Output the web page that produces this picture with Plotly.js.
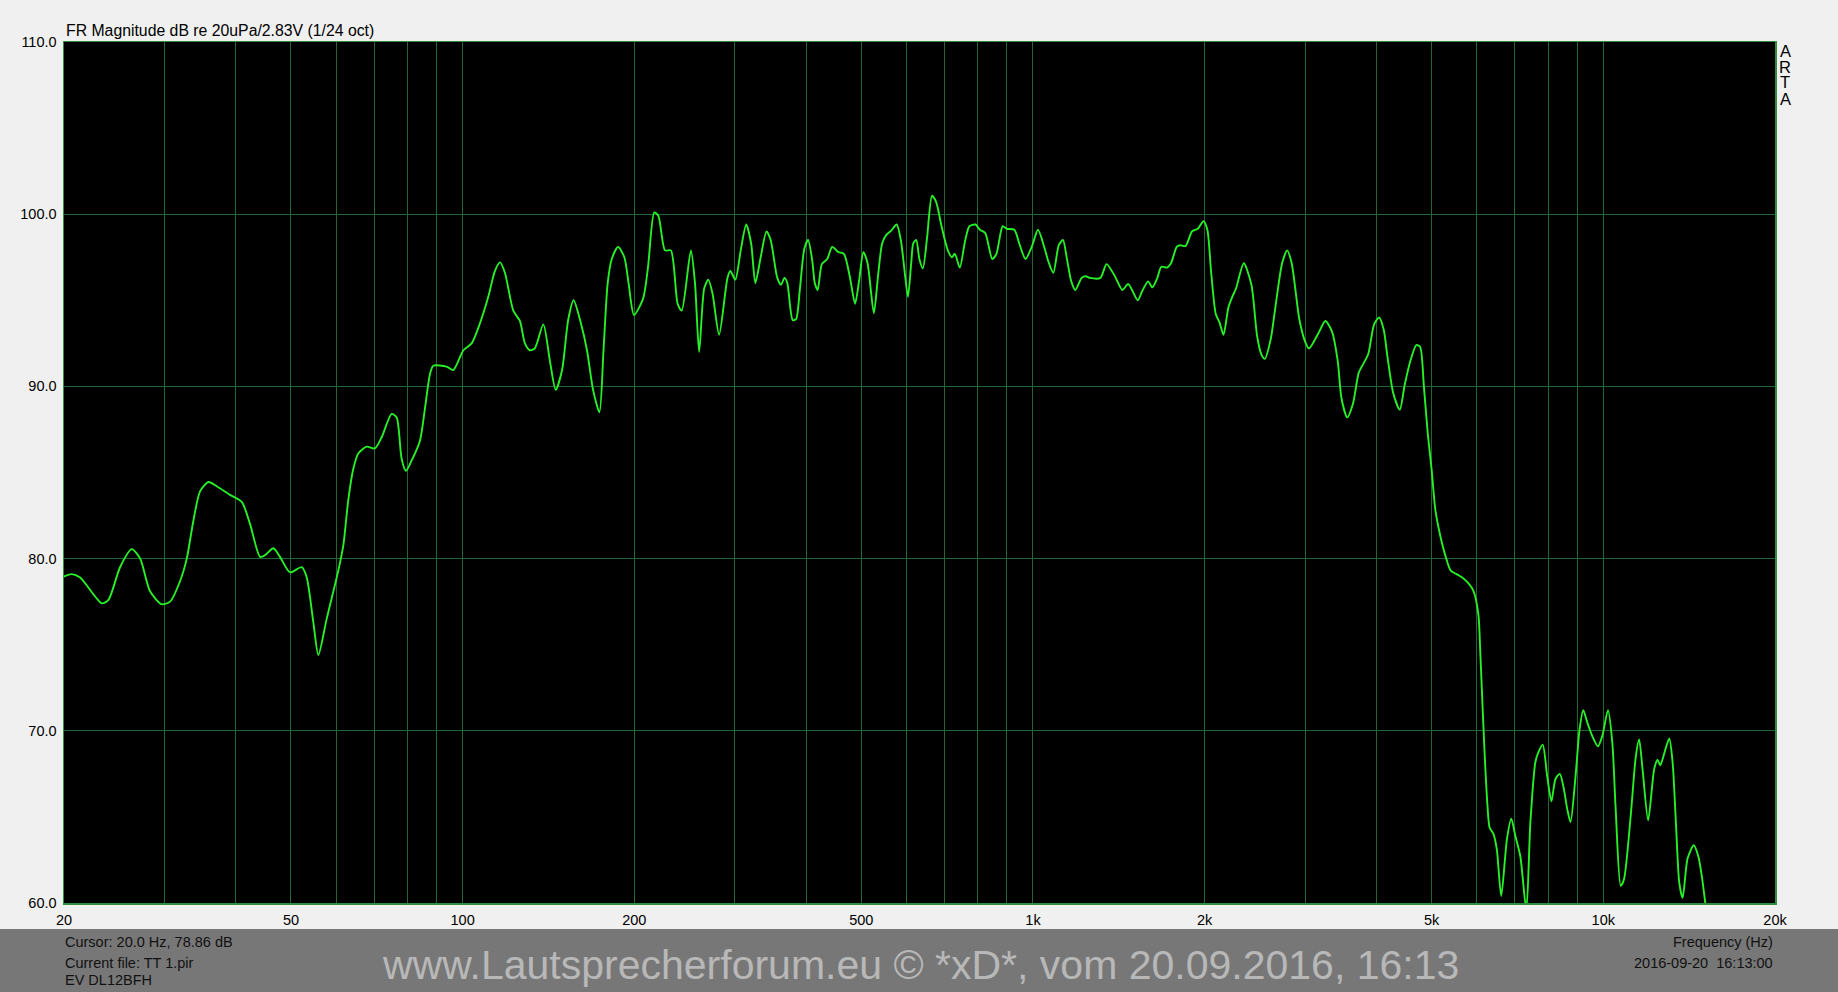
<!DOCTYPE html>
<html>
<head>
<meta charset="utf-8">
<script src="https://cdn.plot.ly/plotly-3.0.1.min.js"></script>
<style>
html,body{margin:0;padding:0;background:#f0f0f0;overflow:hidden;}
#chart{width:1838px;height:992px;}
</style>
</head>
<body>
<div id="chart"></div>
<script>
// ---- data ----
const freqHz = [
20.0,20.64,21.35,23.30,23.93,25.08,26.29,27.20,28.31,29.68,30.69,31.96,32.83,33.72,34.64,35.83,37.06,39.10,40.99,42.39,
44.14,45.03,46.57,47.84,49.81,52.22,53.29,54.73,55.85,57.76,60.53,61.76,63.02,64.30,65.61,67.86,70.18,72.11,75.08,76.61,
78.16,79.54,81.39,84.17,85.87,87.63,88.81,93.73,96.29,100.3,103.7,107.2,110.9,113.9,116.3,118.6,122.7,126.0,128.6,131.2,
133.8,138.5,142.2,145.6,149.4,153.1,156.5,161.1,165.2,169.3,173.7,176.6,179.6,182.6,187.3,192.1,195.4,199.7,207.2,211.4,
216.8,220.4,226.4,231.8,238.2,242.2,251.3,255.5,259.8,265.2,269.6,274.2,281.6,291.3,294.7,300.7,307.3,314.2,320.5,326.0,
333.1,341.0,346.8,356.2,361.6,366.6,370.9,379.0,384.2,390.1,397.3,403.4,410.2,414.4,419.3,426.4,435.8,444.6,456.0,466.1,
477.2,487.6,495.9,504.2,512.8,526.0,534.9,543.9,553.1,564.3,576.8,586.5,593.5,603.6,611.6,616.8,624.1,632.5,641.2,651.9,
665.3,676.5,691.3,709.0,721.0,729.5,744.1,760.8,773.7,793.2,806.9,824.7,848.4,862.9,884.8,899.8,927.3,946.2,970.3,995.0,
1020.5,1046.4,1064.1,1085.7,1109.8,1128.6,1147.7,1167.2,1186.7,1217.2,1237.8,1258.8,1312.7,1345.9,1391.9,1434.7,1468.8,1526.6,1552.4,1592.0,
1619.0,1651.9,1679,1718.9,1745.7,1786.5,1808.7,1851.2,1900.8,1945.2,1991,2021.7,2053.4,2091.7,2124.3,2158,2201.4,2235.6,2270.4,2342,
2415.4,2472.1,2518.5,2550,2609.7,2671.1,2733.9,2790,2841.8,2931.0,3000.0,3047,3167.4,3256,3343.2,3421.8,3475.1,3556,3640.1,3725.7,
3801.1,3872.6,3963.7,4045,4120.1,4184.2,4282.6,4397,4485.4,4590.9,4699,4772.0,4846.3,4921.6,4999.0,5077.1,5179.9,5293.3,5400.4,5528,
5656.0,5789.1,5924.0,6041,6082,6124,6166,6207,6266,6317,6419,6506,6622,6776,6897,7010,7154,7328,7450,7603,
7705,7831,7970,8110,8244,8389,8530,8645,8760,8941,9087,9222,9371,9563,9786,9959,10190,10371,10512,10728,
10874,11172,11401,11556,11714,11985,12283,12451,12586,12792,13050,13226,13404,13587,13774,14055,14406,14678,14877,15081,
15500
];
const magnitudeDb = [
78.96,79.1,78.9,77.4,77.6,79.5,80.55,80.0,78.1,77.35,77.5,78.7,80.0,82.2,83.9,84.45,84.2,83.7,83.3,82.0,
80.1,80.2,80.6,80.1,79.2,79.5,78.9,76.3,74.4,76.5,79.3,80.75,83.4,85.2,86.1,86.5,86.4,87.05,88.4,88.2,
85.8,85.1,85.7,86.85,88.7,90.7,91.2,91.15,90.95,92.1,92.5,93.65,95.2,96.7,97.2,96.6,94.4,93.8,92.5,92.1,
92.2,93.6,91.5,89.8,90.95,93.85,95.0,93.7,92.1,89.8,88.5,92.1,96.0,97.4,98.1,97.5,96.0,94.15,95.1,96.95,
100.1,99.9,97.9,97.9,94.8,94.4,97.9,96.0,92.0,95.7,96.2,95.4,93.0,96.3,96.7,96.2,97.9,99.4,98.3,96.0,
97.5,99.0,98.5,96.3,95.9,96.3,96.0,93.85,93.9,95.6,98.0,98.5,97.3,96.0,95.6,97.1,97.4,98.1,97.8,97.7,
96.4,94.8,96.2,97.8,97.15,94.25,96.4,98.3,98.8,99.05,99.4,98.5,97.15,95.2,97.15,98.3,98.5,97.35,96.85,98.6,
101.07,100.7,99.3,97.9,97.5,97.7,96.9,98.5,99.3,99.4,99.1,98.9,97.4,97.7,99.3,99.15,99.1,98.3,97.4,98.1,
99.1,98.1,97.25,96.6,98.2,98.5,97.35,96.1,95.6,96.3,96.4,96.3,96.3,97.1,96.4,95.6,95.95,95.0,95.5,96.1,
95.75,96.3,96.95,96.9,97.15,98.1,98.2,98.15,99.0,99.15,99.6,99.1,96.6,94.2,93.7,93.0,94.6,95.2,95.7,97.15,
95.9,92.9,91.8,91.6,92.7,95.0,97.15,97.9,97.15,93.9,92.6,92.2,93.1,93.8,93.2,91.5,89.3,88.2,89.0,90.8,
91.35,91.9,93.6,94.0,93.3,91.7,89.6,88.65,90.1,91.5,92.4,92.3,90.0,87.3,85.2,82.8,81.3,80.1,79.3,79.1,
78.9,78.6,78.1,76.7,74.75,72.4,70.1,68.0,65.6,64.4,64.0,63.1,60.4,63.7,64.9,63.9,62.7,59.6,64.7,68.2,
68.8,69.2,67.4,65.9,67.2,67.5,66.6,65.45,64.7,67.4,70.1,71.2,70.5,69.7,69.1,69.7,71.2,69.3,65.45,61.0,
61.4,65.1,68.5,69.5,67.8,64.8,67.8,68.3,68.0,68.7,69.55,68.2,64.7,61.2,60.3,62.6,63.35,62.7,61.6,60.1,
57.0
];
const gridFreqs = [20,30,40,50,60,70,80,90,100,200,300,400,500,600,700,800,900,1000,2000,3000,4000,5000,6000,7000,8000,9000,10000,20000];
const freqLabels = ['20','','','50','','','','','100','200','','','500','','','','','1k','2k','','','5k','','','','','10k','20k'];
const dbTicks = [60,70,80,90,100,110];
const dbLabels = ['60.0','70.0','80.0','90.0','100.0','110.0'];

const titleText = 'FR Magnitude dB re 20uPa/2.83V (1/24 oct)';
const cursorText = 'Cursor: 20.0 Hz, 78.86 dB';
const fileText = 'Current file: TT 1.pir';
const deviceText = 'EV DL12BFH';
const xAxisName = 'Frequency (Hz)';
const dateText = '2016-09-20\u00a0\u00a016:13:00';
const watermark = 'www.Lautsprecherforum.eu \u00a9 *xD*, vom 20.09.2016, 16:13';
const brand = ['A','R','T','A'];

// ---- layout helpers (pixel -> paper) ----
const W = 1838, H = 992;
const L = 64, R = 1775, T = 42, B = 903;
const ax = px => (px - L) / (R - L);
const ay = py => (B - py) / (B - T);
const FONT = 'Arial, "Liberation Sans", sans-serif';

function ann(text, xpx, ypx, xanchor, size, color){
  return {text: text, xref:'paper', yref:'paper', x: ax(xpx), y: ay(ypx),
    xanchor: xanchor, yanchor:'middle', showarrow:false,
    font:{family: FONT, size: size, color: color}, borderpad:0};
}

const annotations = [
  ann(titleText, 65, 30.5, 'left', 15.8, '#000'),
  ann(cursorText, 64, 941.5, 'left', 14.5, '#111'),
  ann(fileText, 64, 963, 'left', 14.5, '#111'),
  ann(deviceText, 64, 980, 'left', 14.5, '#111'),
  ann(xAxisName, 1774, 941.5, 'right', 14.5, '#111'),
  ann(dateText, 1774, 963, 'right', 14.5, '#111'),
  ann(watermark, 920, 965, 'center', 41, '#b8b8b8')
];
const brandY = [51, 67, 82.5, 99];
brand.forEach((ch, i) => annotations.push(ann(ch, 1785, brandY[i], 'center', 16.5, '#000')));

const trace = {
  x: freqHz, y: magnitudeDb, type: 'scatter', mode: 'lines',
  line: {color: '#27f027', width: 1.9, shape: 'spline', smoothing: 0.7},
  hoverinfo: 'skip'
};

const layout = {
  width: W, height: H,
  margin: {l: L, r: W - R, t: T, b: H - B, pad: 0},
  paper_bgcolor: '#f0f0f0', plot_bgcolor: '#000000',
  showlegend: false,
  font: {family: FONT, size: 14, color: '#000'},
  xaxis: {
    type: 'log', range: [Math.log10(20), Math.log10(20000)],
    tickmode: 'array', tickvals: gridFreqs, ticktext: freqLabels,
    showgrid: true, gridcolor: '#246630', gridwidth: 1,
    showline: true, linecolor: '#2f8f3f', linewidth: 1.5, mirror: true,
    ticks: '', zeroline: false, automargin: false,
    tickfont: {family: FONT, size: 14.5, color: '#000'},
    ticklabelstandoff: 3, fixedrange: true
  },
  yaxis: {
    range: [60, 110], tickmode: 'array', tickvals: dbTicks, ticktext: dbLabels,
    showgrid: true, gridcolor: '#246630', gridwidth: 1,
    showline: true, linecolor: '#2f8f3f', linewidth: 1.5, mirror: true,
    ticks: '', zeroline: false, automargin: false,
    tickfont: {family: FONT, size: 14.5, color: '#000'},
    ticklabelstandoff: 3, fixedrange: true
  },
  shapes: [{
    type: 'rect', xref: 'paper', yref: 'paper',
    x0: ax(0), x1: ax(W), y0: ay(929), y1: ay(H + 2),
    fillcolor: '#777777', line: {width: 0}, layer: 'below'
  }],
  annotations: annotations
};

Plotly.newPlot('chart', [trace], layout, {displayModeBar: false, staticPlot: true});
</script>
</body>
</html>
